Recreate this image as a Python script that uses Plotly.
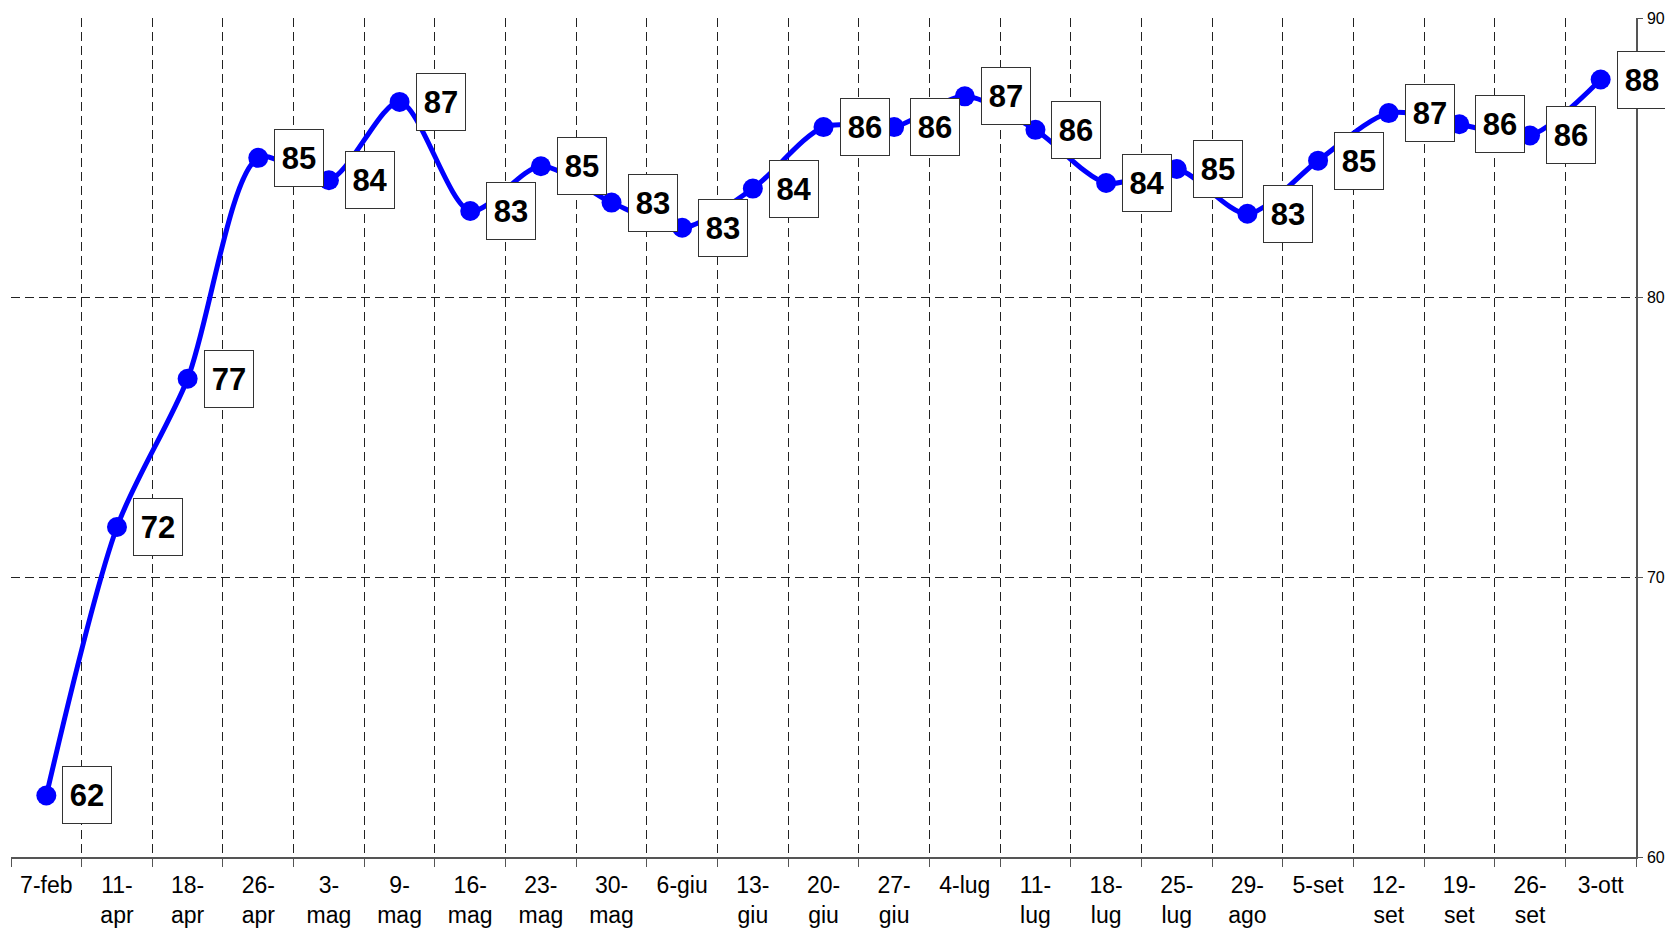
import plotly.graph_objects as go

categories = ["7-feb", "11-<br>apr", "18-<br>apr", "26-<br>apr", "3-<br>mag", "9-<br>mag",
              "16-<br>mag", "23-<br>mag", "30-<br>mag", "6-giu", "13-<br>giu", "20-<br>giu",
              "27-<br>giu", "4-lug", "11-<br>lug", "18-<br>lug", "25-<br>lug", "29-<br>ago",
              "5-set", "12-<br>set", "19-<br>set", "26-<br>set", "3-ott"]
values = [62.2, 71.8, 77.1, 85.0, 84.2, 87.0, 83.1, 84.7, 83.4, 82.5, 83.9, 86.1,
          86.1, 87.2, 86.0, 84.1, 84.6, 83.0, 84.9, 86.6, 86.2, 85.8, 87.8]
labels = ["62", "72", "77", "85", "84", "87", "83", "85", "83", "83", "84", "86",
          "86", "87", "86", "84", "85", "83", "85", "87", "86", "86", "88"]
y_ticks = [60, 70, 80, 90]

fig = go.Figure()
fig.add_trace(go.Scatter(
    x=categories, y=values, mode="lines+markers",
    line=dict(color="#0000FF", width=5, shape="spline", smoothing=0.8),
    marker=dict(color="#0000FF", size=20),
    hoverinfo="skip", showlegend=False,
))

for c, v, t in zip(categories, values, labels):
    fig.add_annotation(
        x=c, y=v, text="<b>%s</b>" % t, showarrow=False,
        xshift=41, yshift=0, width=34, height=42,
        font=dict(family="Arial, Liberation Sans", size=31, color="black"),
        bgcolor="white", bordercolor="#333333", borderwidth=1, borderpad=7,
    )

grid = dict(showgrid=True, gridcolor="#222222", gridwidth=1, griddash="9px,5px")

fig.update_layout(
    width=1657, height=926,
    margin=dict(l=3, r=29, t=10, b=77, autoexpand=False),
    paper_bgcolor="white", plot_bgcolor="white",
    font=dict(family="Arial, Liberation Sans", color="black"),
    xaxis=dict(
        type="category", range=[-0.5, len(categories) - 0.5],
        tickson="boundaries", ticks="outside", ticklen=8, tickcolor="#555555",
        showline=True, linecolor="#555555", linewidth=1.5,
        tickfont=dict(size=23, color="black"), ticklabelstandoff=7,
        zeroline=False, **grid,
    ),
    yaxis=dict(
        side="right", range=[60, 90], tickvals=y_ticks,
        ticks="outside", ticklen=5, tickcolor="#555555",
        showline=True, linecolor="#555555", linewidth=1.5,
        tickfont=dict(size=16, color="black"), ticklabelstandoff=1,
        zeroline=False, **grid,
    ),
)

fig.write_html("out.html")
